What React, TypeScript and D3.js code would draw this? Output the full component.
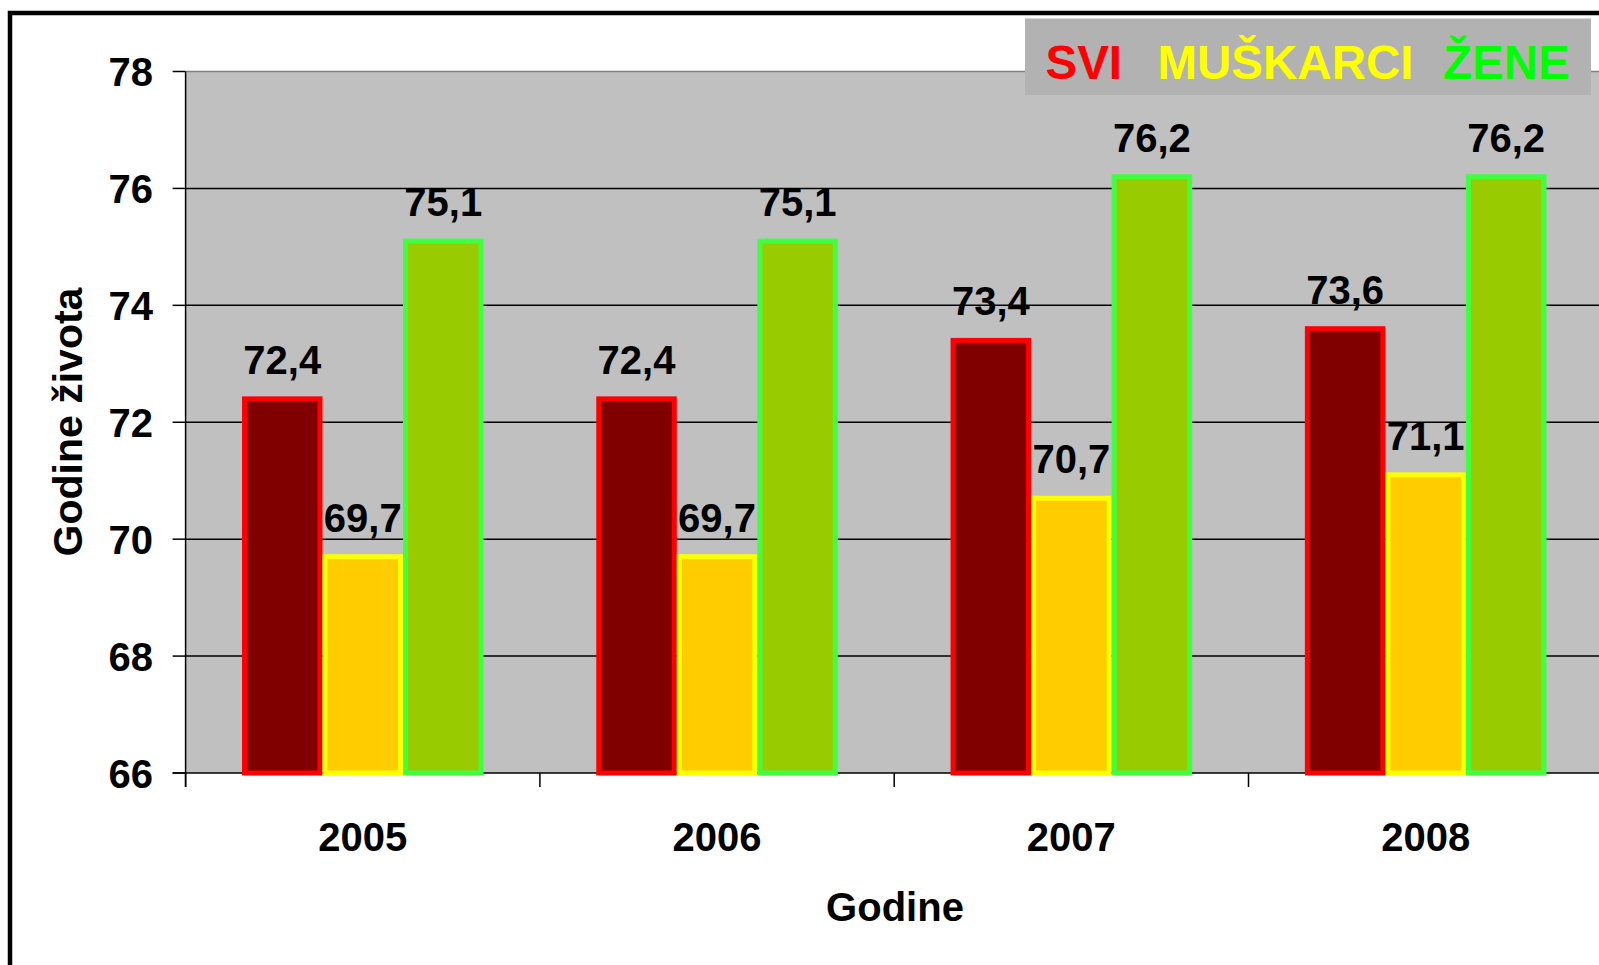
import React from "react";
import * as d3 from "d3";

const years = ["2005", "2006", "2007", "2008"];
const seriesNames = ["SVI", "MUŠKARCI", "ŽENE"];
const svi = [72.4, 72.4, 73.4, 73.6];
const muskarci = [69.7, 69.7, 70.7, 71.1];
const zene = [75.1, 75.1, 76.2, 76.2];
const yTicks = [66, 68, 70, 72, 74, 76, 78];

const fills = ["#800000", "#FFCC00", "#99CC00"];
const strokes = ["#FF0000", "#FFFF00", "#40FF40"];
const legendColors = ["#FF0000", "#FFFF00", "#00FF00"];

const W = 1599;
const H = 965;
const FONT = "'Liberation Sans', Arial, sans-serif";

export default function App() {
  const left = 185.6;
  const right = 1602.8;
  const top = 71.5;
  const bottom = 773;
  const y = d3.scaleLinear().domain([66, 78]).range([bottom, top]);
  const x0 = d3.scaleBand<string>().domain(years).range([left, right]).paddingInner(0).paddingOuter(0);
  const step = x0.bandwidth();
  const bw = step / 4.4;
  const x1 = d3.scaleBand<string>().domain(seriesNames).range([0.7 * bw, 3.7 * bw]).padding(0);
  const allSeries = [svi, muskarci, zene];
  const fmt = (v: number) => v.toFixed(1).replace(".", ",");

  const legendX = [1045.5, 1157.5, 1443];

  return (
    <svg width={W} height={H} style={{ position: "absolute", left: 0, top: 0, background: "#fff" }} fontFamily={FONT}>
      {/* plot background */}
      <rect x={left} y={top} width={right - left} height={bottom - top} fill="#C0C0C0" />
      <line x1={left} x2={right} y1={y(78)} y2={y(78)} stroke="#808080" strokeWidth={1.5} />
      {/* gridlines */}
      {yTicks.filter((t) => t !== 66 && t !== 78).map((t) => (
        <line key={t} x1={left} x2={right} y1={y(t)} y2={y(t)} stroke="#000" strokeWidth={1.5} />
      ))}
      {/* y axis */}
      <line x1={left} x2={left} y1={top} y2={bottom + 14} stroke="#000" strokeWidth={1.5} />
      {yTicks.map((t) => (
        <g key={t}>
          <line x1={left - 13} x2={left} y1={y(t)} y2={y(t)} stroke="#000" strokeWidth={1.5} />
          <text x={153} y={y(t) + 14.5} textAnchor="end" fontSize={40} fontWeight="bold" fill="#000">
            {t}
          </text>
        </g>
      ))}
      {/* x axis */}
      <line x1={left - 13} x2={right} y1={bottom} y2={bottom} stroke="#000" strokeWidth={1.5} />
      {years.map((yr) => (
        <line key={yr} x1={x0(yr)!} x2={x0(yr)!} y1={bottom} y2={bottom + 14} stroke="#000" strokeWidth={1.5} />
      ))}
      {/* bars */}
      {years.map((yr, i) => (
        <g key={yr}>
          {allSeries.map((s, j) => {
            const bx = x0(yr)! + x1(seriesNames[j])!;
            const by = y(s[i]);
            return (
              <rect
                key={j}
                x={bx + 2.5}
                y={by}
                width={bw - 5}
                height={bottom - by}
                fill={fills[j]}
                stroke={strokes[j]}
                strokeWidth={5}
              />
            );
          })}
          {allSeries.map((s, j) => {
            const bx = x0(yr)! + x1(seriesNames[j])!;
            return (
              <text
                key={"t" + j}
                x={bx + bw / 2}
                y={y(s[i]) - 25}
                textAnchor="middle"
                fontSize={40}
                fontWeight="bold"
                fill="#000"
              >
                {fmt(s[i])}
              </text>
            );
          })}
          <text x={x0(yr)! + step / 2} y={851} textAnchor="middle" fontSize={40} fontWeight="bold" fill="#000">
            {yr}
          </text>
        </g>
      ))}
      {/* axis titles */}
      <text x={895} y={921} textAnchor="middle" fontSize={40} fontWeight="bold" fill="#000">
        Godine
      </text>
      <text
        transform={`translate(82,422) rotate(-90)`}
        textAnchor="middle"
        fontSize={41}
        fontWeight="bold"
        fill="#000"
      >
        Godine života
      </text>
      {/* legend */}
      <rect x={1025} y={18.5} width={566} height={76.5} fill="#B2B2B2" />
      {seriesNames.map((n, i) => (
        <text key={n} x={legendX[i]} y={78.5} fontSize={47.5} fontWeight="bold" fill={legendColors[i]}>
          {n}
        </text>
      ))}
      {/* outer frame */}
      <rect x={10} y={13} width={W + 40} height={H + 40} fill="none" stroke="#000" strokeWidth={4.5} />
    </svg>
  );
}
